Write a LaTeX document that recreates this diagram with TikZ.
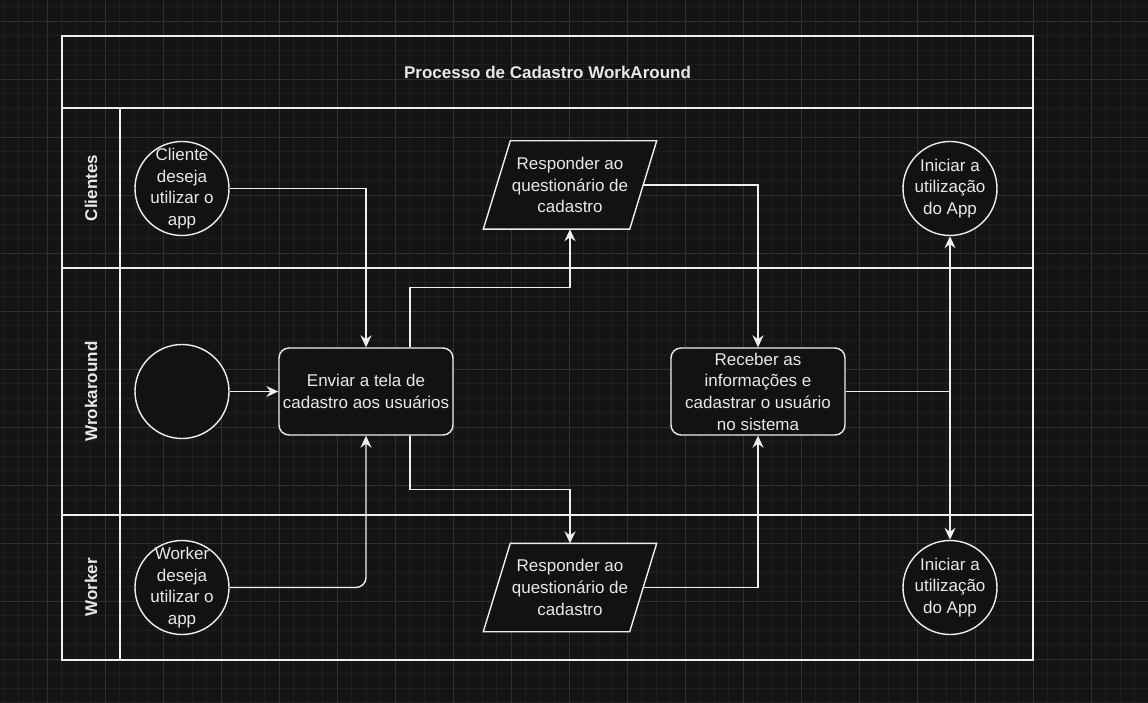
\documentclass[tikz,border=0pt]{standalone}
\usepackage{fontspec}
\setmainfont{Liberation Sans}
\usetikzlibrary{arrows.meta}
\begin{document}
\begin{tikzpicture}[x=1pt,y=-1pt,
  lane/.style={draw=kLine,line width=1.8pt},
  lanelabel/.style={rotate=90,font=\fontsize{17}{20}\selectfont\bfseries,text=kText,inner sep=0pt},
  txt/.style={font=\fontsize{17}{21.7}\selectfont,text=kText,align=center,inner sep=0pt},
  startnode/.style={txt,circle,draw=kLine,fill=kFill,line width=1.4pt,minimum size=94pt,inner sep=-16pt},
  procbox/.style={txt,rectangle,rounded corners=10pt,draw=kLine,fill=kFill,line width=1.4pt,minimum width=174pt,minimum height=87pt},
  iobox/.style={rectangle,inner sep=0pt,minimum width=146pt,minimum height=88pt},
  ioshape/.style={draw=kLine,fill=kFill,line width=1.4pt,line join=miter},
  flow/.style={draw=kLine,line width=1.4pt,-{Stealth[length=12pt,width=11pt,inset=4pt]}}]
  % colors
  \definecolor{kBack}{RGB}{20,20,20}
  \definecolor{kGridMinor}{RGB}{31,31,31}
  \definecolor{kGridMajor}{RGB}{48,48,48}
  \definecolor{kLine}{RGB}{238,238,238}
  \definecolor{kText}{RGB}{232,232,232}
  \definecolor{kFill}{RGB}{18,18,18}
  % background and grid
  \fill[kBack] (0,0) rectangle (1148,703);
  \useasboundingbox (0,0) rectangle (1148,703);
  \foreach \i in {0,...,79} {
    \draw[kGridMinor,line width=0.8pt] (3.5+14.5*\i,0) -- (3.5+14.5*\i,703);
  };
  \foreach \j in {0,...,48} {
    \draw[kGridMinor,line width=0.8pt] (0,6.5+14.5*\j) -- (1148,6.5+14.5*\j);
  };
  \foreach \i in {0,...,19} {
    \draw[kGridMajor,line width=0.8pt] (47+58*\i,0) -- (47+58*\i,703);
  };
  \foreach \j in {0,...,11} {
    \draw[kGridMajor,line width=0.8pt] (0,21+58*\j) -- (1148,21+58*\j);
  };

  % pool and lanes
  \draw[lane] (62,36) rectangle (1033,660);
  \draw[lane] (62,108) -- (1033,108);
  \draw[lane] (62,268) -- (1033,268);
  \draw[lane] (62,515) -- (1033,515);
  \draw[lane] (120,108) -- (120,660);
  \node[txt,font=\fontsize{17}{20}\selectfont\bfseries] (title) at (547.5,72) {Processo de Cadastro WorkAround};
  \node[lanelabel] (lClientes) at (91,188) {Clientes};
  \node[lanelabel] (lWork) at (91,391.5) {Wrokaround};
  \node[lanelabel] (lWorker) at (91,587.5) {Worker};

  % nodes
  \node[startnode] (cliStart) at (182,188.5) {Cliente\\deseja\\utilizar o\\app};
  \node[startnode] (wrkStart) at (182,391.5) {};
  \node[startnode] (wkrStart) at (182,587.5) {Worker\\deseja\\utilizar o\\app};
  \node[procbox] (enviar) at (366,391.5) {Enviar a tela de\\cadastro aos usuários};
  \node[procbox] (receber) at (758,391.5) {Receber as\\informações e\\cadastrar o usuário\\no sistema};
  \node[startnode] (iniCli) at (950,188.5) {Iniciar a\\utilização\\do App};
  \node[startnode] (iniWkr) at (950,587.5) {Iniciar a\\utilização\\do App};

  % questionnaires (parallelograms)
  \foreach \q/\y in {qCli/185,qWkr/587.5} {
    \node[iobox] (\q) at (570,\y) {};
    \draw[ioshape] ([xshift=13.5pt]\q.north west) -- ([xshift=13.5pt]\q.north east)
                -- ([xshift=-13.5pt]\q.south east) -- ([xshift=-13.5pt]\q.south west) -- cycle;
    \node[txt] (\q Txt) at (\q) {Responder ao\\questionário de\\cadastro};
  };

  % flows
  \draw[flow] (cliStart.east) -| (enviar.north);
  \draw[flow,rounded corners=10pt] (wkrStart.east) -| (enviar.south);
  \draw[flow] (wrkStart.east) -- (enviar.west);
  \draw[flow] ([xshift=44pt]enviar.north) -- ++(0,-60) -| (qCli.south);
  \draw[flow] ([xshift=44pt]enviar.south) -- ++(0,54) -| (qWkr.north);
  \draw[flow] (qCli.east) -| (receber.north);
  \draw[flow] (qWkr.east) -| (receber.south);
  \draw[flow] (receber.east) -| (iniCli.south);
  \draw[flow] (receber.east) -| (iniWkr.north);
\end{tikzpicture}
\end{document}
